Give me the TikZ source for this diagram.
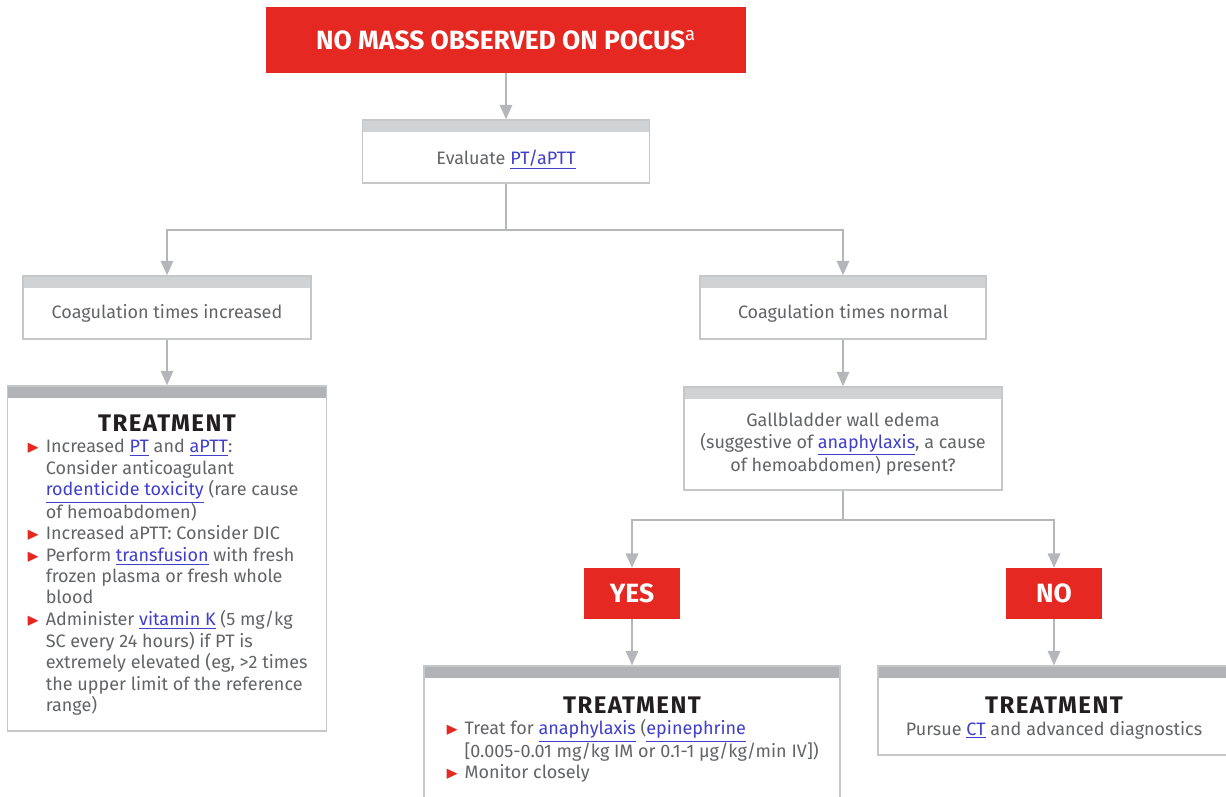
\documentclass[tikz,border=0pt]{standalone}
\usepackage{fontspec}
\setmainfont{Fira Sans}
\newfontfamily\headfont[LetterSpace=6]{Fira Sans}
\usepackage{amssymb}
\usepackage{graphicx}
\usetikzlibrary{arrows.meta,positioning}

\definecolor{accent}{HTML}{E52821}
\definecolor{hdrlight}{HTML}{D1D2D4}
\definecolor{hdrdark}{HTML}{B1B3B6}
\definecolor{boxline}{HTML}{C6C7C9}
\definecolor{arrowgray}{HTML}{B5B6B9}
\definecolor{txt}{HTML}{636466}
\definecolor{ink}{HTML}{231F20}
\definecolor{link}{HTML}{3F3FCC}

\newcommand{\lnk}[1]{\textcolor{link}{\underline{#1}}}
\newcommand{\bul}{\textcolor{accent}{\scalebox{0.95}{$\blacktriangleright$}}}
\newcommand{\treathead}{{\headfont\bfseries\color{ink}\fontsize{24}{26}\selectfont TREATMENT}}

\begin{document}
\begin{tikzpicture}[x=1pt,y=-1pt]
  \tikzset{
    qbox/.style={draw=boxline,line width=1.5pt,fill=white,inner sep=0pt,
      path picture={\fill[#1] (path picture bounding box.north west)
        rectangle ([yshift=-12pt]path picture bounding box.north east);}},
    qbox/.default=hdrlight,
    lbl/.style={text=txt,align=center,inner sep=0pt,yshift=-6pt,
      font=\fontsize{18}{21.4}\selectfont},
    flag/.style={fill=accent,text=white,inner sep=0pt,
      font=\bfseries\fontsize{26.4}{30}\selectfont},
    conn/.style={draw=arrowgray,line width=2pt,
      -{Triangle[width=12.5pt,length=14.5pt,color=arrowgray]}},
    wire/.style={draw=arrowgray,line width=2pt}
  }
  \clip (0,0) rectangle (1226,796);

  \node[flag,minimum width=480pt,minimum height=66pt] (top) at (506,40)
    {NO MASS OBSERVED ON POCUS\textsuperscript{\mdseries a}};
  \node[qbox,minimum width=287pt,minimum height=63pt,
    label={[lbl,yshift=-2pt]center:Evaluate \lnk{PT/aPTT}}] (eval) at (506,151.5) {};

  \node[qbox,minimum width=288pt,minimum height=63pt,
    label={[lbl]center:Coagulation times increased}] (incr) at (167,307.5) {};
  \node[qbox,minimum width=286pt,minimum height=63pt,
    label={[lbl]center:Coagulation times normal}] (norm) at (843,307.5) {};

  \node[qbox=hdrdark,minimum width=319pt,minimum height=345pt,
    label={[lbl,yshift=-2pt]center:\begin{tabular}{@{}l@{\hspace{6pt}}l@{}}
      \multicolumn{2}{c}{\treathead}\\
      \bul & Increased \lnk{PT} and \lnk{aPTT}:\\
           & Consider anticoagulant\\
           & \lnk{rodenticide toxicity} (rare cause\\
           & of hemoabdomen)\\
      \bul & Increased aPTT: Consider DIC\\
      \bul & Perform \lnk{transfusion} with fresh\\
           & frozen plasma or fresh whole\\
           & blood\\
      \bul & Administer \lnk{vitamin K} (5 mg/kg\\
           & SC every 24 hours) if PT is\\
           & extremely elevated (eg, >2 times\\
           & the upper limit of the reference\\
           & range)
    \end{tabular}}] (ltreat) at (167,558.5) {};

  \node[qbox,minimum width=318pt,minimum height=103pt,
    label={[lbl]center:Gallbladder wall edema\\
      (suggestive of \lnk{anaphylaxis}, a cause\\
      of hemoabdomen) present?}] (gall) at (843,438.5) {};

  \node[flag,minimum width=96pt,minimum height=51pt] (yes) at (632,593.5) {YES};
  \node[flag,minimum width=96pt,minimum height=51pt] (no) at (1054,593.5) {NO};

  \node[qbox=hdrdark,minimum width=416pt,minimum height=140pt,
    label={[lbl,yshift=1pt]center:\begin{tabular}{@{}l@{\hspace{6pt}}l@{}}
      \multicolumn{2}{c}{\treathead}\\
      \bul & Treat for \lnk{anaphylaxis} (\lnk{epinephrine}\\
           & [0.005-0.01 mg/kg IM or 0.1-1 µg/kg/min IV])\\
      \bul & Monitor closely
    \end{tabular}}] (ytreat) at (632,736) {};
  \node[qbox=hdrdark,minimum width=352pt,minimum height=89pt,
    label={[lbl,yshift=-1.5pt]center:\treathead\\
      Pursue \lnk{CT} and advanced diagnostics}] (ntreat) at (1054,710.5) {};

  % branch points
  \coordinate (split1) at (506,230);
  \coordinate (split2) at (843,520);

  \path[conn] (top) edge (eval);
  \draw[wire] (eval) -- (split1);
  \draw[conn] (split1) -| (incr);
  \draw[conn] (split1) -| (norm);
  \path[conn] (incr) edge (ltreat)
              (norm) edge (gall);
  \draw[wire] (gall) -- (split2);
  \draw[conn] (split2) -| (yes);
  \draw[conn] (split2) -| (no);
  \path[conn] (yes) edge (ytreat)
              (no) edge (ntreat);
\end{tikzpicture}
\end{document}
